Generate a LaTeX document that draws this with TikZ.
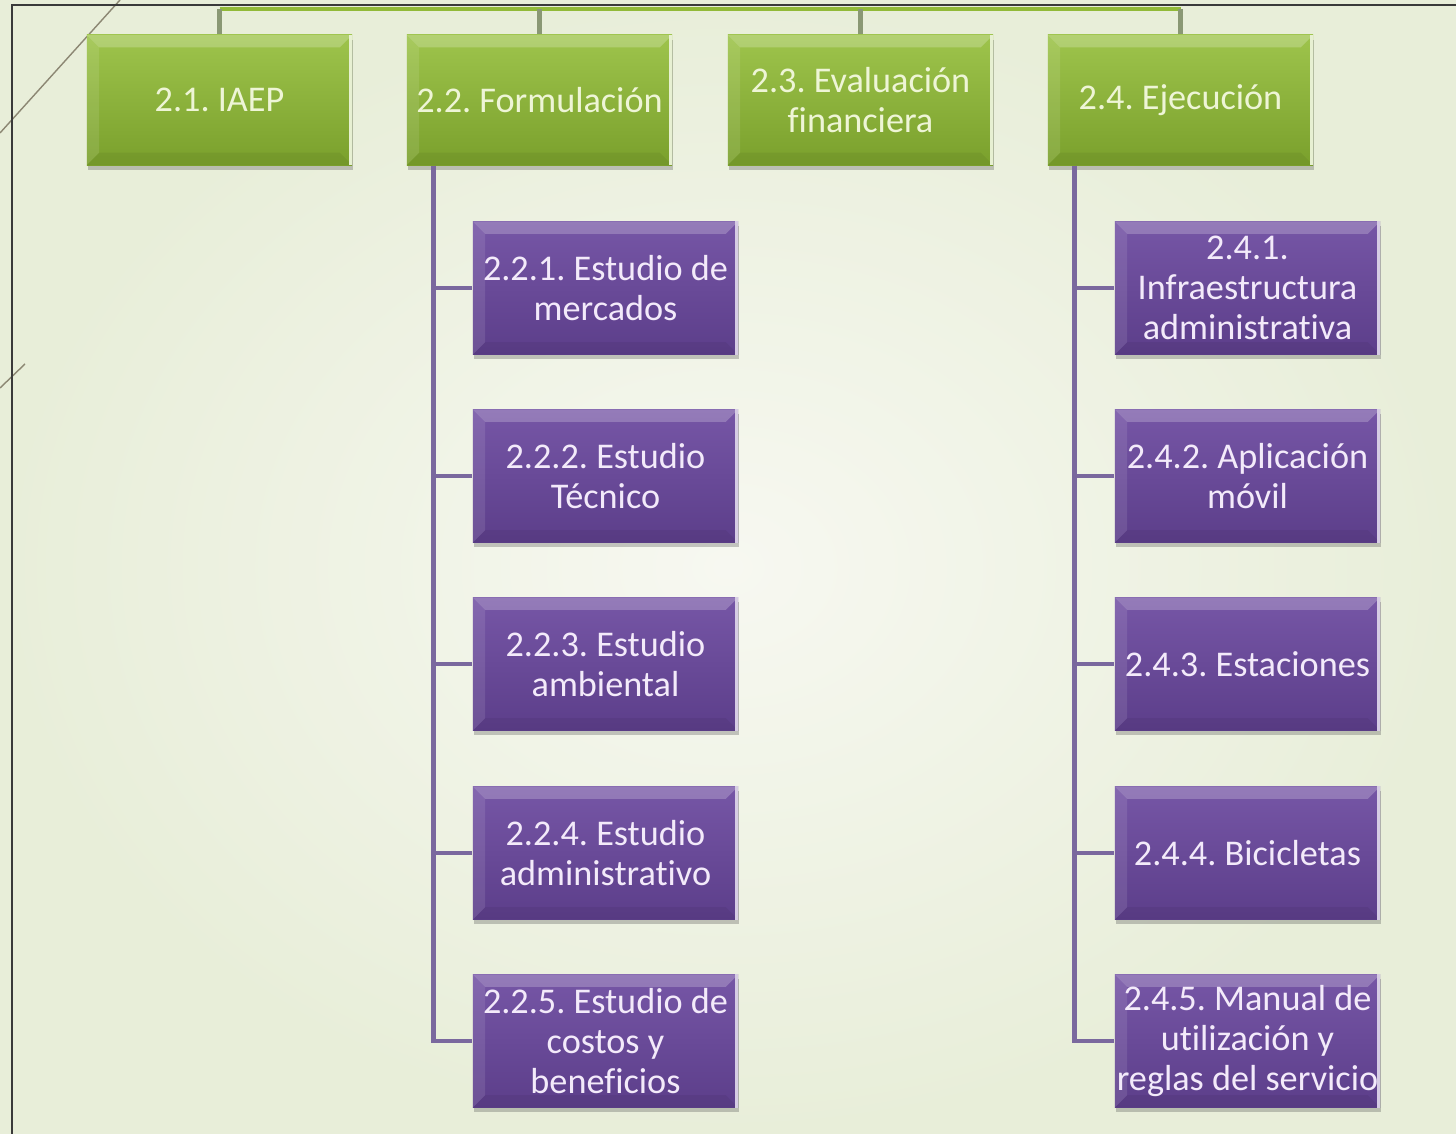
\documentclass[tikz,border=0pt]{standalone}
\usepackage{fontspec}
\setmainfont{Carlito}[Ligatures=NoCommon]
\usetikzlibrary{calc,shadows}
\definecolor{bginner}{RGB}{247,248,241}
\definecolor{bgouter}{RGB}{232,238,217}
\definecolor{framegray}{RGB}{58,58,58}
\definecolor{decogray}{RGB}{140,135,115}
\definecolor{leaftop}{RGB}{158,196,76}
\definecolor{leafbot}{RGB}{122,160,44}
\definecolor{leaftext}{RGB}{238,245,214}
\definecolor{leafline}{RGB}{146,186,56}
\definecolor{stemgray}{RGB}{138,152,116}
\definecolor{plumtop}{RGB}{118,86,166}
\definecolor{plumbot}{RGB}{92,62,138}
\definecolor{plumtext}{RGB}{243,234,250}
\definecolor{plumline}{RGB}{122,104,158}

\begin{document}
\frenchspacing
\begin{tikzpicture}[x=0.01cm,y=-0.01cm,
    wbsbox/.style={minimum width=2.65cm, inner sep=0pt, align=center,
        font=\fontsize{10.3}{11.4}\selectfont,
        drop shadow={shadow xshift=0.3pt,shadow yshift=-1.4pt,opacity=0.3,fill=black!70}},
    bevel/.style={path picture={
        \fill[white,opacity=0.22] (path picture bounding box.north west)
            -- (path picture bounding box.north east)
            -- ([xshift=-3.5pt,yshift=-3.5pt]path picture bounding box.north east)
            -- ([xshift=3.5pt,yshift=-3.5pt]path picture bounding box.north west) -- cycle;
        \fill[white,opacity=0.10] (path picture bounding box.north west)
            -- ([xshift=3.5pt,yshift=-3.5pt]path picture bounding box.north west)
            -- ([xshift=3.5pt,yshift=3.5pt]path picture bounding box.south west)
            -- (path picture bounding box.south west) -- cycle;
        \fill[black,opacity=0.05] (path picture bounding box.south west)
            -- (path picture bounding box.south east)
            -- ([xshift=-3.5pt,yshift=3.5pt]path picture bounding box.south east)
            -- ([xshift=3.5pt,yshift=3.5pt]path picture bounding box.south west) -- cycle;
        \draw[#1,line width=1pt] ([xshift=-0.5pt]path picture bounding box.north east)
            -- ([xshift=-0.5pt]path picture bounding box.south east);
    }},
    leafbox/.style={wbsbox, minimum height=1.3cm, top color=leaftop, bottom color=leafbot,
        text=leaftext, bevel=white!75!leaftop},
    plumbox/.style={wbsbox, minimum height=1.33cm, top color=plumtop, bottom color=plumbot,
        text=plumtext, bevel=white!70!plumtop},
    bar/.style={leafline,line width=1.2pt},
    stem/.style={stemgray,line width=1.2pt},
    branch/.style={plumline,line width=1.4pt}]

% Slide background
\useasboundingbox (0,0) rectangle (1456,1134);
\shade[inner color=bginner,outer color=bgouter] (0,0) rectangle (1456,1134);
\draw[decogray,line width=0.4pt] (120,0) -- (0,133);
\draw[decogray,line width=0.4pt] (25,364) -- (0,388);
\draw[framegray,line width=0.5pt] (12,1134) -- (12,5) -- (1456,5);

% Second level
\node[leafbox] (iaep) at (219.5,100) {2.1. IAEP};
\node[leafbox] (formul) at (539.5,100) {2.2. Formulación};
\node[leafbox] (evalfin) at (860.5,100) {2.3. Evaluación\\financiera};
\node[leafbox] (ejec) at (1180.5,100) {2.4. Ejecución};

% Formulacion branch
\node[plumbox] (mercados) at (605.5,288) {2.2.1. Estudio de\\mercados};
\node[plumbox] (tecnico) at (605.5,476) {2.2.2. Estudio\\Técnico};
\node[plumbox] (ambiental) at (605.5,664) {2.2.3. Estudio\\ambiental};
\node[plumbox] (administ) at (605.5,853) {2.2.4. Estudio\\administrativo};
\node[plumbox] (costos) at (605.5,1041) {2.2.5. Estudio de\\costos y\\beneficios};

% Ejecucion branch
\node[plumbox] (infra) at (1247.5,288) {2.4.1.\\Infraestructura\\administrativa};
\node[plumbox] (movil) at (1247.5,476) {2.4.2. Aplicación\\móvil};
\node[plumbox] (estac) at (1247.5,664) {2.4.3. Estaciones};
\node[plumbox] (bicis) at (1247.5,853) {2.4.4. Bicicletas};
\node[plumbox] (manual) at (1247.5,1041) {2.4.5. Manual de\\utilización y\\reglas del servicio};

% Top bar to the parent
\coordinate (topbar) at (0,9);
\draw[bar] (iaep.north |- topbar) -- (ejec.north |- topbar);
\draw[stem] (iaep.north) -- (iaep.north |- topbar);
\draw[stem] (formul.north) -- (formul.north |- topbar);
\draw[stem] (evalfin.north) -- (evalfin.north |- topbar);
\draw[stem] (ejec.north) -- (ejec.north |- topbar);

% Trunks
\coordinate (trunkF) at ($(formul.south west)+(27,0)$);
\coordinate (trunkE) at ($(ejec.south west)+(27,0)$);
\draw[branch] (trunkF) |- (costos.west);
\draw[branch] (trunkF) |- (mercados.west);
\draw[branch] (trunkF) |- (tecnico.west);
\draw[branch] (trunkF) |- (ambiental.west);
\draw[branch] (trunkF) |- (administ.west);
\draw[branch] (trunkE) |- (manual.west);
\draw[branch] (trunkE) |- (infra.west);
\draw[branch] (trunkE) |- (movil.west);
\draw[branch] (trunkE) |- (estac.west);
\draw[branch] (trunkE) |- (bicis.west);

\end{tikzpicture}
\end{document}
